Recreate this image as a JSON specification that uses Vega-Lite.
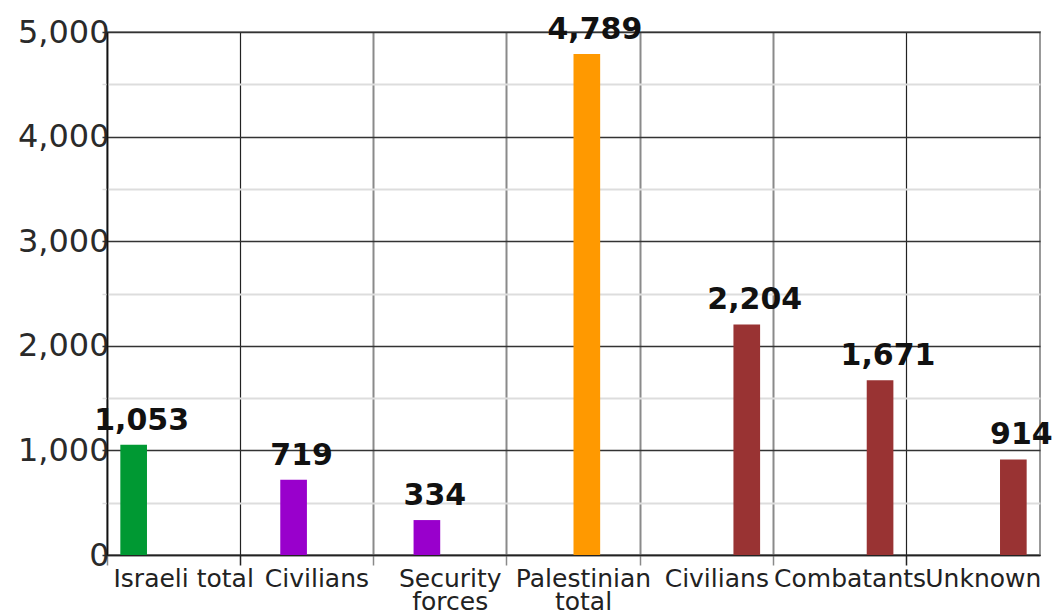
{
  "$schema": "https://vega.github.io/schema/vega-lite/v6.json",
  "width": 933,
  "height": 523,
  "autosize": "none",
  "padding": {"left": 107, "top": 32, "right": 15, "bottom": 61},
  "background": "white",
  "data": {
    "values": [
      {"cat": "Israeli total", "series": "Israeli total", "value": 1053},
      {"cat": "Israeli civilians", "series": "Israeli breakdown", "value": 719},
      {"cat": "Security forces", "series": "Israeli breakdown", "value": 334},
      {"cat": "Palestinian total", "series": "Palestinian total", "value": 4789},
      {"cat": "Palestinian civilians", "series": "Palestinian breakdown", "value": 2204},
      {"cat": "Combatants", "series": "Palestinian breakdown", "value": 1671},
      {"cat": "Unknown", "series": "Palestinian breakdown", "value": 914}
    ]
  },
  "encoding": {
    "x": {
      "field": "cat",
      "type": "nominal",
      "sort": null,
      "scale": {"paddingInner": 0, "paddingOuter": 0},
      "axis": {
        "title": null,
        "labelAngle": 0,
        "bandPosition": 0,
        "grid": true,
        "gridColor": {"condition": {"test": "datum.value === 'Israeli civilians' || datum.value === 'Unknown'", "value": "#222"}, "value": "#8a8a8a"},
        "gridWidth": {"condition": {"test": "datum.value === 'Israeli civilians' || datum.value === 'Unknown'", "value": 1.2}, "value": 2},
        "tickColor": {"condition": {"test": "datum.value === 'Israeli civilians' || datum.value === 'Unknown'", "value": "#222"}, "value": "#8a8a8a"},
        "tickSize": 10,
        "tickWidth": 1.5,
        "domainColor": "#222",
        "domainWidth": 1.5,
        "labelFont": "DejaVu Sans",
        "labelFontSize": 25,
        "labelColor": "#222",
        "labelPadding": 1,
        "labelOffset": 10,
        "labelLineHeight": 23,
        "labelOverlap": false,
        "labelExpr": "datum.value === 'Israeli civilians' || datum.value === 'Palestinian civilians' ? 'Civilians' : datum.value === 'Security forces' ? ['Security', 'forces'] : datum.value === 'Palestinian total' ? ['Palestinian', 'total'] : datum.value"
      }
    },
    "xOffset": {
      "field": "series",
      "type": "nominal",
      "scale": {
        "domain": ["Israeli total", "Israeli breakdown", "Palestinian total", "Palestinian breakdown"],
        "paddingInner": 0,
        "paddingOuter": 0.5
      }
    },
    "y": {
      "field": "value",
      "type": "quantitative",
      "scale": {"domain": [0, 5000], "nice": false},
      "axis": {
        "title": null,
        "values": [0, 500, 1000, 1500, 2000, 2500, 3000, 3500, 4000, 4500, 5000],
        "grid": true,
        "gridColor": {"condition": {"test": "datum.value % 1000 === 0", "value": "#333"}, "value": "#dddddd"},
        "gridWidth": {"condition": {"test": "datum.value % 1000 === 0", "value": 1.5}, "value": 2},
        "tickColor": {"condition": {"test": "datum.value % 1000 === 0", "value": "#333"}, "value": "#dddddd"},
        "tickSize": 5,
        "tickWidth": 1.5,
        "domainColor": "#111",
        "domainWidth": 1.5,
        "labelExpr": "datum.value % 1000 === 0 ? format(datum.value, ',') : ''",
        "labelFont": "DejaVu Sans",
        "labelFontSize": 32,
        "labelColor": "#2a2a2a",
        "labelPadding": -7
      }
    }
  },
  "layer": [
    {
      "mark": {"type": "bar"},
      "encoding": {
        "color": {
          "field": "series",
          "type": "nominal",
          "scale": {
            "domain": ["Israeli total", "Israeli breakdown", "Palestinian total", "Palestinian breakdown"],
            "range": ["#009933", "#9900cc", "#ff9900", "#993333"]
          },
          "legend": null
        }
      }
    },
    {
      "mark": {
        "type": "text",
        "font": "DejaVu Sans",
        "fontWeight": "bold",
        "fontSize": 30,
        "color": "#111",
        "baseline": "alphabetic",
        "align": "center",
        "dx": 8,
        "dy": -15
      },
      "encoding": {
        "text": {"field": "value", "type": "quantitative", "format": ","}
      }
    }
  ],
  "config": {
    "view": {"stroke": "#999", "strokeWidth": 2}
  }
}
